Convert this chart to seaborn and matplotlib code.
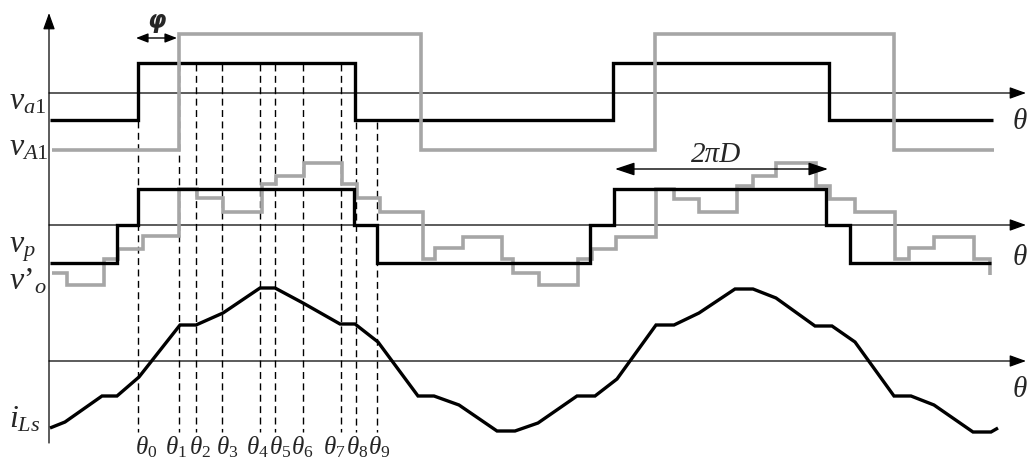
import matplotlib
matplotlib.use("Agg")
import matplotlib.pyplot as plt
import seaborn as sns
import pandas as pd

# ---------------- data (diagram units) ----------------
# switching instants (dashed lines) and their labels
theta_pos = [138, 179, 196, 222, 260, 275, 303, 341, 356, 377]
theta_names = [r"$\theta_{\mathit{%d}}$" % i for i in range(10)]

# v_a1 : primary square wave (black)
va1_x = [50, 138, 355, 613, 829, 993]
va1_v = [-27, 30, -27, 30, -27, -27]

# v_A1 : secondary square wave (gray), phase shifted by phi
vA1_x = [52, 179, 421, 655, 894, 994]
vA1_v = [-57, 59, -57, 59, -57, -57]

# v_p : three-level primary voltage (black)
vp_x = [50, 117, 138, 354, 377, 590, 614, 826, 850, 991]
vp_v = [-38, 0, 36, 0, -38, 0, 36, 0, -38, -38]

# v'_o : multilevel output voltage referred to primary (gray)
vo_x = [52, 67, 104, 118, 143, 179, 197, 223, 262, 276, 304, 342, 357, 380,
        423, 435, 463, 502, 513, 539, 578, 592, 616, 656, 674, 699, 737, 753,
        776, 816, 830, 855, 895, 909, 934, 974, 990]
vo_v = [-48, -60, -34, -24, -11, 36, 27, 13, 41, 49, 62, 41, 27, 13,
        -34, -23, -12, -34, -48, -60, -34, -24, -12, 36, 26, 13, 39, 49,
        62, 39, 26, 13, -34, -23, -12, -34, -50]

# i_Ls : inductor current (black, piecewise linear)
iL_x = [50, 65, 102, 117, 139, 180, 196, 223, 260, 275, 303, 340, 355, 378,
        418, 434, 459, 497, 515, 538, 577, 595, 617, 656, 674, 699, 735, 753,
        776, 815, 832, 855, 894, 911, 934, 973, 991, 998]
iL_v = [-67, -61, -35, -35, -16, 36, 36, 48, 73, 73, 58, 37, 37, 19,
        -35, -35, -44, -70, -70, -62, -35, -35, -18, 36, 36, 48, 72, 72,
        63, 35, 35, 19, -35, -35, -44, -71, -71, -67]

# ---------------- layout / style ----------------
W, H = 1027, 459
base_top, base_mid, base_bot = 93, 225, 361
axis_x0 = 49
BLACK = "#000000"
GRAY = "#A6A6A6"
label_shift = [8, -3, 4, 5, -3, 5, -1, -7, 1, 2]

sns.set_theme(style="white")
plt.rcParams["font.family"] = ["Liberation Serif", "DejaVu Serif"]
plt.rcParams["mathtext.fontset"] = "custom"
plt.rcParams["mathtext.rm"] = "Liberation Serif"
plt.rcParams["mathtext.it"] = "Liberation Serif:italic"
plt.rcParams["mathtext.bf"] = "Liberation Serif:bold"

fig = plt.figure(figsize=(W / 100, H / 100), dpi=100)
ax = fig.add_axes([0, 0, 1, 1])
ax.set_xlim(0, W)
ax.set_ylim(H, 0)
ax.axis("off")


def trace(xs, vs, base, color, lw, z, steps=True):
    df = pd.DataFrame({"x": xs, "y": [base - v for v in vs]})
    kw = dict(drawstyle="steps-post") if steps else {}
    sns.lineplot(data=df, x="x", y="y", ax=ax, color=color, linewidth=lw,
                 estimator=None, sort=False, legend=False, zorder=z,
                 solid_joinstyle="miter", solid_capstyle="butt", **kw)


# dashed guide lines
for i, xp in enumerate(theta_pos):
    y0 = 122 if i >= 8 else 64
    ax.vlines(xp, y0, 432, colors=BLACK, linewidth=1.0,
              linestyles=(0, (5, 3.2)), zorder=1)

# axes with arrows
arrow_kw = dict(arrowstyle="-|>,head_length=1.0,head_width=0.36",
                color=BLACK, lw=0.9, shrinkA=0, shrinkB=0, mutation_scale=10)
for yb in (base_top, base_mid, base_bot):
    ax.annotate("", xy=(W - 1, yb), xytext=(axis_x0, yb), arrowprops=arrow_kw,
                zorder=2)
ax.annotate("", xy=(axis_x0, 13), xytext=(axis_x0, 443), arrowprops=arrow_kw,
            zorder=2)

# waveforms
trace(va1_x, va1_v, base_top, BLACK, 2.4, 3)
trace(vA1_x, vA1_v, base_top, GRAY, 2.6, 4)
trace(vo_x, vo_v, base_mid, GRAY, 2.6, 3)
trace(vp_x, vp_v, base_mid, BLACK, 2.4, 4)
trace(iL_x, iL_v, base_bot, BLACK, 2.4, 4, steps=False)

# phi arrow and 2piD arrow
ax.annotate("", xy=(136, 38), xytext=(177, 38),
            arrowprops=dict(arrowstyle="<|-|>,head_length=0.9,head_width=0.35",
                            color=BLACK, lw=1.0, shrinkA=0, shrinkB=0,
                            mutation_scale=8), zorder=5)
ax.text(156, 21, "φ", family="DejaVu Sans", style="italic", weight="bold",
        fontsize=17, ha="center", va="center", zorder=5)

ax.annotate("", xy=(615, 169), xytext=(828, 169),
            arrowprops=dict(arrowstyle="<|-|>,head_length=1.2,head_width=0.4",
                            color=BLACK, lw=1.0, shrinkA=0, shrinkB=0,
                            mutation_scale=10), zorder=5)
ax.text(716, 155, "2πD", family="Liberation Serif", style="italic",
        fontsize=21, ha="center", va="center", zorder=5)

# left signal labels
left_labels = [r"$v_{\mathit{a1}}$", r"$v_{\mathit{A1}}$", r"$v_{p}$",
               r"$v\mathit{’}_{o}$", r"$i_{\mathit{Ls}}$"]
left_base = [110, 156, 253, 290, 428]
for lab, yb in zip(left_labels, left_base):
    ax.text(9, yb, lab, fontsize=23, ha="left", va="baseline", zorder=5)

# theta labels at axis ends
for yc in (122, 258, 390):
    ax.text(1012, yc, r"$\theta$", fontsize=21, ha="left", va="center",
            zorder=5)

# switching-instant labels
for xp, sh, lab in zip(theta_pos, label_shift, theta_names):
    ax.text(xp + sh, 454, lab, fontsize=18, ha="center", va="baseline",
            zorder=5)

fig.savefig("out.png", dpi=100)
